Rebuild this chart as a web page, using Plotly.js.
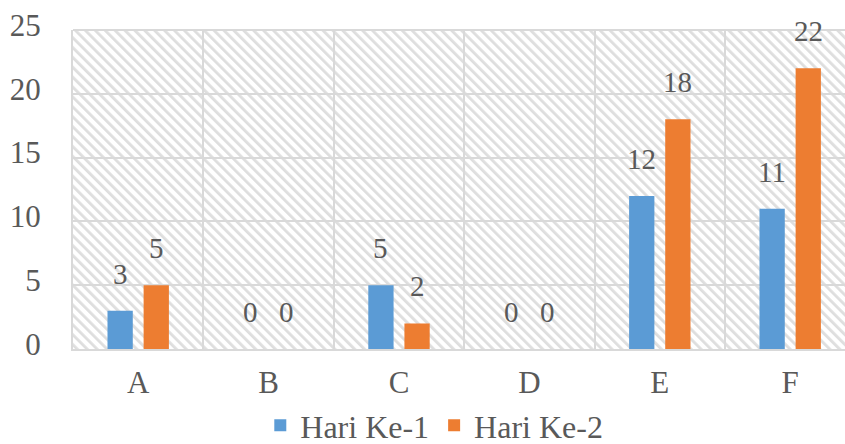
<!DOCTYPE html>
<html>
<head>
<meta charset="utf-8">
<script src="https://cdn.plot.ly/plotly-3.0.1.min.js"></script>
<style>html,body{margin:0;padding:0;background:#fff;}#chart{width:845px;height:444px;}</style>
</head>
<body>
<div id="chart"></div>
<script>
const categories = ['A', 'B', 'C', 'D', 'E', 'F'];
const seriesNames = ['Hari Ke-1', 'Hari Ke-2'];
const hari1 = [3, 0, 5, 0, 12, 11];
const hari2 = [5, 0, 2, 0, 18, 22];
const yTicks = [0, 5, 10, 15, 20, 25];

const colors = ['#5B9BD5', '#ED7D31'];
const textColor = '#595959';
const gridColor = '#d9d9d9';
const serif = 'Liberation Serif';
const W = 845, H = 444;
const margin = {l: 73, r: 0, t: 30, b: 95, autoexpand: false};
const plotW = W - margin.l - margin.r;
const plotH = H - margin.t - margin.b;
const catPx = 130.4;
const xMax = -0.5 + plotW / catPx;
const bargap = 0.446, bargroupgap = 0.3;
const slotPx = catPx * (1 - bargap) / 2;

const series = [hari1, hari2];
const traces = series.map((vals, i) => ({
  type: 'bar', name: seriesNames[i], x: categories, y: vals,
  marker: {color: colors[i]}, hoverinfo: 'x+y'
}));

const annotations = [];
series.forEach((vals, i) => {
  const shift = (i - 0.5) * slotPx;
  vals.forEach((v, j) => {
    annotations.push({
      x: categories[j], y: v, xref: 'x', yref: 'y', text: String(v),
      showarrow: false, xanchor: 'center', yanchor: 'bottom',
      xshift: shift, yshift: 19,
      font: {family: serif, size: 29, color: textColor}
    });
  });
});

const hatch = 'data:image/svg+xml;utf8,' + encodeURIComponent(
  `<svg xmlns="http://www.w3.org/2000/svg" width="${plotW}" height="${plotH}" viewBox="0 0 ${plotW} ${plotH}" preserveAspectRatio="none">` +
  `<defs><pattern id="p" width="7" height="7" patternUnits="userSpaceOnUse" patternTransform="rotate(-45)">` +
  `<rect width="7" height="7" fill="#ffffff"/><rect x="0" y="0" width="2.8" height="7" fill="#dedede"/></pattern></defs>` +
  `<rect width="${plotW}" height="${plotH}" fill="url(#p)"/></svg>`);

const layout = {
  width: W, height: H, margin: margin,
  paper_bgcolor: '#ffffff', plot_bgcolor: 'rgba(0,0,0,0)',
  barmode: 'group', bargap: bargap, bargroupgap: bargroupgap,
  showlegend: true,
  legend: {orientation: 'h', x: 0.468, xanchor: 'center', y: -0.24, yanchor: 'middle',
    font: {family: serif, size: 32, color: textColor},
    itemwidth: 30, tracegroupgap: 0},
  font: {family: serif, size: 31, color: textColor},
  xaxis: {type: 'category', range: [-0.5, xMax], tickson: 'boundaries',
    showgrid: true, gridcolor: gridColor, gridwidth: 2,
    showline: true, linecolor: gridColor, linewidth: 2,
    ticks: 'outside', ticklen: 30, tickcolor: 'rgba(0,0,0,0)', ticklabelstandoff: 5,
    tickfont: {family: serif, size: 31, color: textColor}, fixedrange: true, automargin: false},
  yaxis: {range: [0, 25], tickvals: yTicks, ticktext: yTicks.map(String),
    showgrid: true, gridcolor: gridColor, gridwidth: 2,
    showline: true, linecolor: gridColor, linewidth: 2, zeroline: false,
    ticks: 'outside', ticklen: 24, tickcolor: 'rgba(0,0,0,0)', ticklabelshift: -5,
    tickfont: {family: serif, size: 31, color: textColor}, fixedrange: true, automargin: false},
  shapes: [{type: 'line', xref: 'paper', yref: 'paper', x0: 0, x1: 1, y0: 1, y1: 1,
    line: {color: gridColor, width: 2}, layer: 'below'}],
  images: [{source: hatch, xref: 'paper', yref: 'paper', x: 0, y: 1, sizex: 1, sizey: 1,
    xanchor: 'left', yanchor: 'top', sizing: 'stretch', layer: 'below'}],
  annotations: annotations
};

Plotly.newPlot('chart', traces, layout, {displayModeBar: false, staticPlot: true});
</script>
</body>
</html>
